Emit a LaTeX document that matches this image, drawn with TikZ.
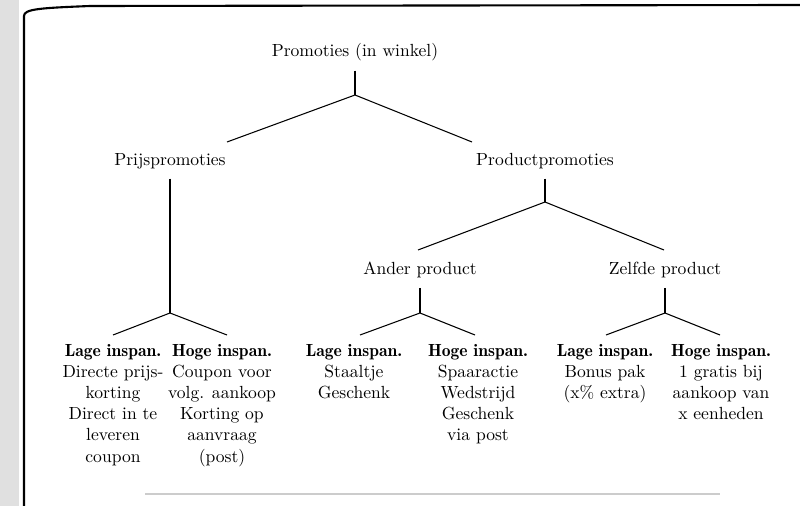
\documentclass[tikz,border=0pt]{standalone}
\usepackage{tikz}

\newcommand{\leafhead}[1]{{\fontseries{b}\selectfont #1}}

\begin{document}
\begin{tikzpicture}[x=0.02cm, y=-0.02cm, line width=0.6pt,
  leaf/.style={align=center, anchor=north, inner sep=0pt}]

\useasboundingbox (0,0) rectangle (800,506);

% Scanned page edge and frame
\fill[black!12] (0,0) rectangle (19,506);
\draw[line width=1.2pt] (24,506) -- (24,16) .. controls (24,9) and (40,8) .. (90,6) -- (800,5);
\draw[black!20] (145,494) -- (720,494);

% Categories
\node (root) at (355,52) {Promoties (in winkel)};
\node (prijs) at (170,161) {Prijspromoties};
\node (product) at (545,161) {Productpromoties};
\node (ander) at (420,270) {Ander product};
\node (zelfde) at (665,270) {Zelfde product};

% Leaves
\node[leaf] (pl) at (113,344) {\leafhead{Lage inspan.}\\Directe prijs-\\korting\\Direct in te\\leveren\\coupon};
\node[leaf] (ph) at (222,344) {\leafhead{Hoge inspan.}\\Coupon voor\\volg. aankoop\\Korting op\\aanvraag\\(post)};
\node[leaf] (al) at (354,344) {\leafhead{Lage inspan.}\\Staaltje\\Geschenk};
\node[leaf] (ah) at (478,344) {\leafhead{Hoge inspan.}\\Spaaractie\\Wedstrijd\\Geschenk\\via post};
\node[leaf] (zl) at (605,344) {\leafhead{Lage inspan.}\\Bonus pak\\(x\% extra)};
\node[leaf] (zh) at (721,344) {\leafhead{Hoge inspan.}\\1 gratis bij\\aankoop van\\x eenheden};

% Branch points
\coordinate (j0) at (355,95);
\coordinate (j1) at (170,313);
\coordinate (j2) at (545,202);
\coordinate (j3) at (420,313);
\coordinate (j4) at (665,313);

% Free ends of the branches
\coordinate (j0l) at (227,142);
\coordinate (j0r) at (472,142);
\coordinate (j1l) at (113,335);
\coordinate (j1r) at (227,335);
\coordinate (j2l) at (418,250);
\coordinate (j2r) at (664,250);
\coordinate (j3l) at (360,335);
\coordinate (j3r) at (475,335);
\coordinate (j4l) at (606,335);
\coordinate (j4r) at (720,335);

% Tree lines
\draw[shorten <=2pt] (root) -- (j0);
\draw (j0l) -- (j0) -- (j0r);
\draw[shorten <=2pt] (prijs) -- (j1);
\draw (j1l) -- (j1) -- (j1r);
\draw[shorten <=2pt] (product) -- (j2);
\draw (j2l) -- (j2) -- (j2r);
\draw[shorten <=2pt] (ander) -- (j3);
\draw (j3l) -- (j3) -- (j3r);
\draw[shorten <=2pt] (zelfde) -- (j4);
\draw (j4l) -- (j4) -- (j4r);

\end{tikzpicture}
\end{document}
